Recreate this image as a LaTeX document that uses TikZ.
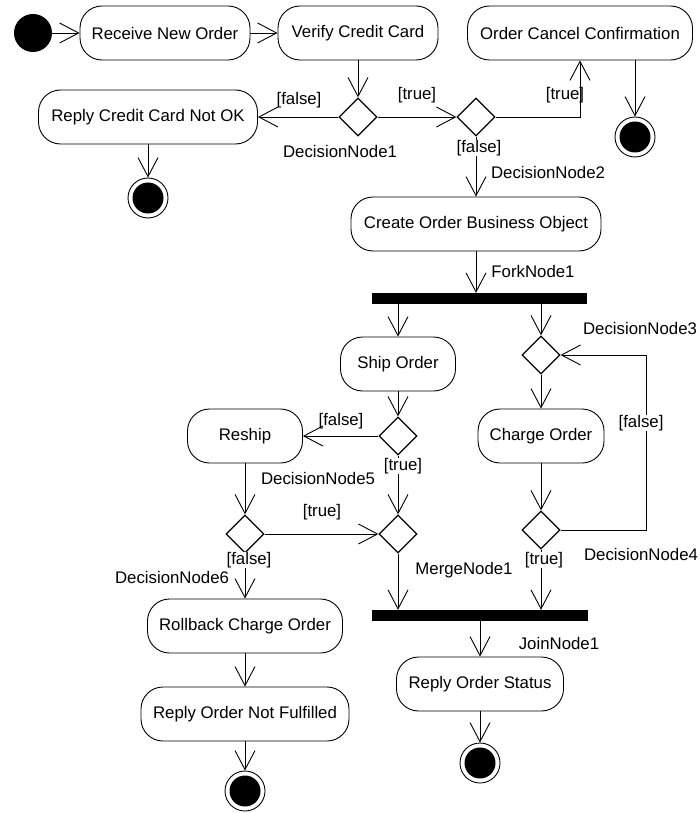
\documentclass[tikz,border=0pt]{standalone}
\usepackage{fontspec}
\setmainfont{Liberation Sans}
\usepackage{tikz}
\usetikzlibrary{shapes.geometric, arrows.meta}
\tikzstyle{action} = [draw, rounded corners=22pt, minimum height=54pt, inner sep=2pt, line width=0.9pt]
\tikzstyle{decision} = [draw, diamond, minimum width=38pt, minimum height=38pt, inner sep=0pt, line width=1.2pt]
\tikzstyle{bar} = [fill=black, minimum height=11pt, inner sep=0pt]
\tikzstyle{startnode} = [circle, fill=black, minimum size=38pt, inner sep=0pt]
\tikzstyle{endnode} = [circle, draw, line width=0.9pt, minimum size=40pt, inner sep=0pt, path picture={\fill (path picture bounding box.center) circle (15.5pt);}]
\tikzstyle{arrow} = [line width=0.9pt, -{Straight Barb[length=19pt, width=20pt, line width=0.9pt]}]
\tikzstyle{guard} = [inner sep=0.5pt]

\begin{document}
\begin{tikzpicture}[x=1pt, y=-1pt, font=\fontsize{16.8}{20}\selectfont]
		\useasboundingbox (0, 0) rectangle (699, 813);
		% nodes
		\node[startnode] (start) at (33, 33) {};
		\node[action, minimum width=170pt] (rno) at (165, 33) {Receive New Order};
		\node[action, minimum width=160pt] (vcc) at (358, 33) {Verify Credit Card};
		\node[action, minimum width=225pt] (occ) at (580, 33) {Order Cancel Confirmation};
		\node[decision] (dec1) at (358, 117) {};
		\node[decision] (dec2) at (476, 117) {};
		\node[action, minimum width=219pt] (rccnok) at (148, 117) {Reply Credit Card Not OK};
		\node[endnode] (fin1) at (148, 198) {};
		\node[endnode] (fin2) at (635, 137) {};
		\node[action, minimum width=250pt] (cobo) at (476, 224) {Create Order Business Object};
		\node[bar, minimum width=215pt] (fork) at (479.5, 298.5) {};
		\node[action, minimum width=115pt] (ship) at (398, 364) {Ship Order};
		\node[decision] (dec3) at (541, 355) {};
		\node[action, minimum width=126pt] (charge) at (541, 436) {Charge Order};
		\node[decision] (dec4) at (541, 530) {};
		\node[decision] (dec5) at (398, 436) {};
		\node[action, minimum width=115pt] (reship) at (245, 436) {Reship};
		\node[decision] (dec6) at (245, 534) {};
		\node[decision] (merge) at (398, 534) {};
		\node[bar, minimum width=216pt] (join) at (480, 615.5) {};
		\node[action, minimum width=195pt] (rollback) at (245, 626) {Rollback Charge Order};
		\node[action, minimum width=208pt] (ronf) at (245, 714) {Reply Order Not Fulfilled};
		\node[endnode] (fin4) at (245, 791) {};
		\node[action, minimum width=167pt] (ros) at (480, 684) {Reply Order Status};
		\node[endnode] (fin3) at (480, 763) {};
		% node names
		\node (n1) at (340, 151) {DecisionNode1};
		\node (n2) at (548, 172) {DecisionNode2};
		\node (n3) at (533, 271) {ForkNode1};
		\node (n4) at (640, 328) {DecisionNode3};
		\node (n5) at (641, 554) {DecisionNode4};
		\node (n6) at (318, 478) {DecisionNode5};
		\node (n7) at (172, 577) {DecisionNode6};
		\node (n8) at (464, 570) {MergeNode1};
		\node (n9) at (559, 643) {JoinNode1};
		% flows
		\draw[arrow] (start) -- (rno);
		\draw[arrow] (rno) -- (vcc);
		\draw[arrow] (vcc) -- (dec1);
		\draw[arrow] (dec1) -- (rccnok);
		\draw[arrow] (dec1) -- (dec2);
		\draw[arrow] (dec2.east) -| (occ.south);
		\draw[arrow] (occ.south -| fin2) -- (fin2);
		\draw[arrow] (rccnok) -- (fin1);
		\draw[arrow] (dec2) -- (cobo);
		\draw[arrow] (cobo) -- (cobo |- fork.north);
		\draw[arrow] (fork.south -| ship) -- (ship);
		\draw[arrow] (fork.south -| dec3) -- (dec3);
		\draw[arrow] (dec3) -- (charge);
		\draw[arrow] (charge) -- (dec4);
		\draw[arrow] (dec4.east) -- ++(86, 0) |- (dec3.east);
		\draw[arrow] (dec4) -- (dec4 |- join.north);
		\draw[arrow] (ship) -- (dec5);
		\draw[arrow] (dec5) -- (reship);
		\draw[arrow] (dec5) -- (merge);
		\draw[arrow] (reship) -- (dec6);
		\draw[arrow] (dec6) -- (merge);
		\draw[arrow] (dec6) -- (rollback);
		\draw[arrow] (rollback) -- (ronf);
		\draw[arrow] (ronf) -- (fin4);
		\draw[arrow] (merge) -- (merge |- join.north);
		\draw[arrow] (join.south -| ros) -- (ros);
		\draw[arrow] (ros) -- (fin3);
		% guards
		\node[guard] (g1) at (299, 100) {[false]};
		\node[guard] (g2) at (417, 95) {[true]};
		\node[guard] (g3) at (565, 95) {[true]};
		\node[guard, fill=white] (g4) at (479, 148) {[false]};
		\node[guard] (g5) at (341, 421) {[false]};
		\node[guard, fill=white] (g6) at (403, 466) {[true]};
		\node[guard, fill=white] (g7) at (641, 423) {[false]};
		\node[guard, fill=white] (g8) at (544, 560) {[true]};
		\node[guard] (g9) at (322, 512) {[true]};
		\node[guard, fill=white] (g10) at (249, 560) {[false]};
		\end{tikzpicture}
\end{document}
